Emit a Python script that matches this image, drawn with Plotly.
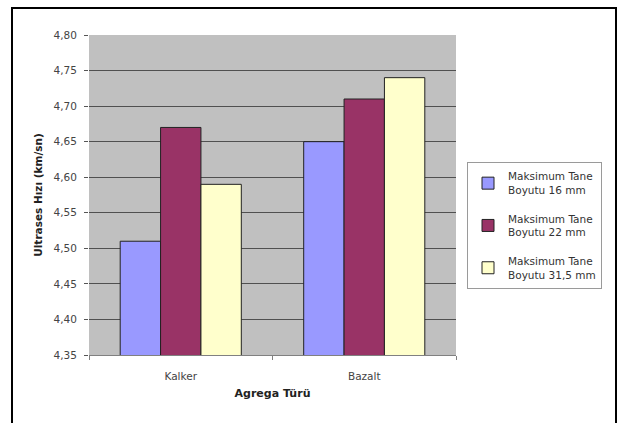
import plotly.graph_objects as go

categories = ["Kalker", "Bazalt"]
series_names = ["Maksimum Tane<br>Boyutu 16 mm", "Maksimum Tane<br>Boyutu 22 mm", "Maksimum Tane<br>Boyutu 31,5 mm"]
values_16 = [4.51, 4.65]
values_22 = [4.67, 4.71]
values_315 = [4.59, 4.74]
colors = ["#9999FF", "#993366", "#FFFFCC"]
y_ticks = [4.35, 4.40, 4.45, 4.50, 4.55, 4.60, 4.65, 4.70, 4.75, 4.80]

W, H = 620, 423
L, R, T, B = 89, 164, 35, 68
pw, ph = W - L - R, H - T - B
FONT = "DejaVu Sans, Verdana, sans-serif"

fig = go.Figure()
for i, (name, vals, col) in enumerate(zip(series_names, [values_16, values_22, values_315], colors)):
    fig.add_trace(go.Bar(
        x=categories, y=vals, name=name, legendgroup=f"g{i}",
        marker=dict(color=col, line=dict(color="#222222", width=1)),
    ))

def px_x(p):
    return (p - L) / pw

def px_y(p):
    return (H - B - p) / ph

fig.update_layout(
    width=W, height=H,
    margin=dict(l=L, r=R, t=T, b=B),
    paper_bgcolor="white",
    plot_bgcolor="#C0C0C0",
    separators=",.",
    barmode="group",
    bargap=0.34,
    bargroupgap=0,
    font=dict(family=FONT, size=10, color="#333333"),
    xaxis=dict(
        title=dict(text="<b>Agrega Türü</b>", font=dict(size=11, color="#222222"), standoff=8),
        ticks="outside", tickson="boundaries", ticklen=4, tickcolor="#808080",
        ticklabelstandoff=11,
        showline=True, linecolor="#808080", linewidth=1,
        showgrid=False,
        tickfont=dict(size=10.5, color="#444444"),
    ),
    yaxis=dict(
        title=dict(text="<b>Ultrases Hızı (km/sn)</b>", font=dict(size=10.5, color="#222222"), standoff=8),
        range=[4.35, 4.80],
        tickvals=y_ticks,
        tickformat=".2f",
        ticks="outside", ticklen=4, tickcolor="#555555",
        ticklabelstandoff=5,
        showgrid=True, gridcolor="#505050", gridwidth=1,
        zeroline=False, showline=False,
        tickfont=dict(size=10.5, color="#444444"),
    ),
    legend=dict(
        x=px_x(467), y=px_y(162), xanchor="left", yanchor="top",
        bordercolor="#9a9a9a", borderwidth=1, bgcolor="white",
        font=dict(size=10.5, color="#333333"),
        tracegroupgap=12, itemwidth=30,
    ),
    showlegend=True,
)

fig.add_shape(
    type="rect", xref="paper", yref="paper",
    x0=px_x(12), x1=px_x(616), y0=px_y(440), y1=px_y(8),
    line=dict(color="black", width=2), fillcolor="rgba(0,0,0,0)", layer="above",
)

fig.write_html("out.html")
